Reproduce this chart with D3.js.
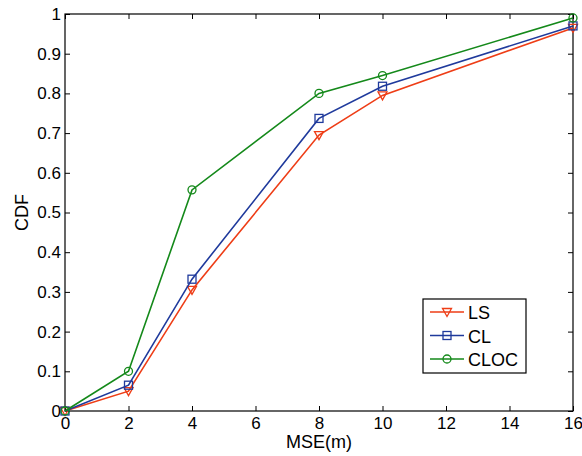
<!DOCTYPE html>
<html>
<head>
<meta charset="utf-8">
<script src="https://cdn.jsdelivr.net/npm/d3@7"></script>
<style>
  body { margin: 0; background: #fff; }
  svg text { font-family: Arial, "Liberation Sans", sans-serif; }
</style>
</head>
<body>
<div id="chart"></div>
<script>
const mse = [0, 2, 4, 8, 10, 16];
const ls = [0, 0.05, 0.305, 0.695, 0.795, 0.965];
const cl = [0, 0.065, 0.332, 0.737, 0.818, 0.970];
const cloc = [0, 0.10, 0.557, 0.800, 0.845, 0.990];
const xTicks = [0, 2, 4, 6, 8, 10, 12, 14, 16];
const yTicks = [0, 0.1, 0.2, 0.3, 0.4, 0.5, 0.6, 0.7, 0.8, 0.9, 1];

const series = [
  { name: 'LS', values: ls, color: '#ee3d16', marker: 'tri' },
  { name: 'CL', values: cl, color: '#1f3a9c', marker: 'sq' },
  { name: 'CLOC', values: cloc, color: '#14891a', marker: 'circ' }
];

const width = 582, height = 456;
const margin = { left: 65, top: 14, right: 9, bottom: 45 };

const svg = d3.select('#chart').append('svg')
  .attr('width', width)
  .attr('height', height);

const x = d3.scaleLinear().domain([0, 16]).range([margin.left, width - margin.right]);
const y = d3.scaleLinear().domain([0, 1]).range([height - margin.bottom, margin.top]);

const tickLen = 5;

// box
svg.append('rect')
  .attr('x', x(0)).attr('y', y(1))
  .attr('width', x(16) - x(0)).attr('height', y(0) - y(1))
  .attr('fill', 'none').attr('stroke', '#000').attr('stroke-width', 1.2);

// axes (ticks inward, mirrored)
svg.append('g')
  .attr('transform', `translate(0,${y(0)})`)
  .call(d3.axisBottom(x).tickValues(xTicks).tickSize(-tickLen).tickPadding(6).tickFormat(d3.format('d')))
  .call(g => g.select('.domain').remove())
  .call(g => g.selectAll('text').attr('font-size', 17).attr('fill', '#000'));

svg.append('g')
  .attr('transform', `translate(0,${y(1)})`)
  .call(d3.axisTop(x).tickValues(xTicks).tickSize(-tickLen).tickFormat(''))
  .call(g => g.select('.domain').remove());

svg.append('g')
  .attr('transform', `translate(${x(0)},0)`)
  .call(d3.axisLeft(y).tickValues(yTicks).tickSize(-tickLen).tickPadding(4).tickFormat(d => d3.format('')(+d.toFixed(1))))
  .call(g => g.select('.domain').remove())
  .call(g => g.selectAll('text').attr('font-size', 17).attr('fill', '#000'));

svg.append('g')
  .attr('transform', `translate(${x(16)},0)`)
  .call(d3.axisRight(y).tickValues(yTicks).tickSize(-tickLen).tickFormat(''))
  .call(g => g.select('.domain').remove());

// labels
svg.append('text')
  .attr('x', (x(0) + x(16)) / 2).attr('y', 448)
  .attr('text-anchor', 'middle').attr('font-size', 18)
  .text('MSE(m)');

svg.append('text')
  .attr('transform', `translate(28,${(y(0) + y(1)) / 2}) rotate(-90)`)
  .attr('text-anchor', 'middle').attr('font-size', 18)
  .text('CDF');

function drawMarker(g, type, color) {
  if (type === 'tri') {
    g.append('path').attr('d', 'M-4.5,-3.5L4.5,-3.5L0,4.5Z')
      .attr('fill', 'none').attr('stroke', color).attr('stroke-width', 1.3);
  } else if (type === 'sq') {
    g.append('rect').attr('x', -4).attr('y', -4).attr('width', 8).attr('height', 8)
      .attr('fill', 'none').attr('stroke', color).attr('stroke-width', 1.3);
  } else {
    g.append('circle').attr('r', 4)
      .attr('fill', 'none').attr('stroke', color).attr('stroke-width', 1.3);
  }
}

const line = d3.line().x(d => x(d[0])).y(d => y(d[1]));

series.forEach(s => {
  const pts = mse.map((m, i) => [m, s.values[i]]);
  svg.append('path')
    .datum(pts)
    .attr('d', line)
    .attr('fill', 'none')
    .attr('stroke', s.color)
    .attr('stroke-width', 1.6);
  pts.forEach(p => {
    const g = svg.append('g').attr('transform', `translate(${x(p[0])},${y(p[1])})`);
    drawMarker(g, s.marker, s.color);
  });
});

// legend
const lg = svg.append('g').attr('transform', 'translate(423,299)');
lg.append('rect').attr('width', 103).attr('height', 74)
  .attr('fill', '#fff').attr('stroke', '#000').attr('stroke-width', 1.2);
series.forEach((s, i) => {
  const yy = 13 + i * 23.5;
  lg.append('line').attr('x1', 7).attr('x2', 41).attr('y1', yy).attr('y2', yy)
    .attr('stroke', s.color).attr('stroke-width', 1.6);
  drawMarker(lg.append('g').attr('transform', `translate(24,${yy})`), s.marker, s.color);
  lg.append('text').attr('x', 45).attr('y', yy + 7).attr('font-size', 18).text(s.name);
});
</script>
</body>
</html>
